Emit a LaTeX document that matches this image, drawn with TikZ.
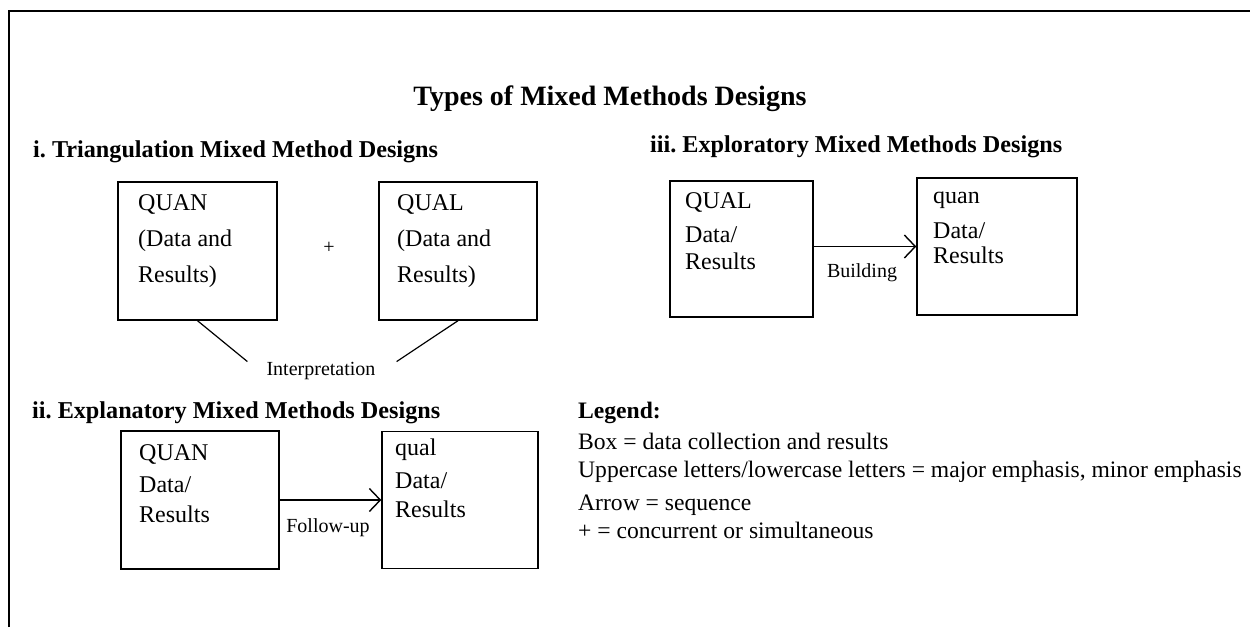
\documentclass[tikz,border=0pt]{standalone}
\usepackage{fontspec}
\setmainfont{Liberation Serif}
\usetikzlibrary{arrows.meta,positioning}
\frenchspacing

\begin{document}
\begin{tikzpicture}[x=1pt,y=-1pt,
    dbox/.style={draw,line width=1.4pt,minimum height=138pt,inner sep=0pt},
    btext/.style={anchor=north west,align=left,inner sep=0pt},
    head/.style={anchor=base west,inner sep=0pt,font=\bfseries\fontsize{24.2}{28}\selectfont},
    lbl/.style={anchor=base,inner sep=0pt,font=\fontsize{20}{24}\selectfont},
    leg/.style={anchor=base west,inner sep=0pt,font=\fontsize{23.6}{27}\selectfont},
    seq/.style={line width=1.4pt,-{Straight Barb[length=11pt,width=23pt]}}]
        \useasboundingbox (0,0) rectangle (1250,627);
        % page frame, cut off at right and bottom
        \draw[line width=2.6pt] (9,627) -- (9,11) -- (1250,11);

        \node[anchor=base,inner sep=0pt,font=\bfseries\fontsize{28}{32}\selectfont] (title) at (610,105) {Types of Mixed Methods Designs};

        % i. triangulation
        \node[head] (headA) at (33,157) {i. Triangulation Mixed Method Designs};
        \node[dbox,minimum width=159pt] (quanA) at (197.5,251) {};
        \node[dbox,minimum width=158pt] (qualA) at (458,251) {};
        \node[btext,font=\fontsize{24}{36}\selectfont] (quanAt) at (138,194) {QUAN\\(Data and\\Results)};
        \node[btext,font=\fontsize{24}{36}\selectfont] (qualAt) at (397,194) {QUAL\\(Data and\\Results)};
        \node[lbl] (plus) at (329,253) {+};
        \node[lbl] (interp) at (321,375) {Interpretation};
        \draw[line width=1.2pt] (quanA.south) -- ([xshift=-19pt]interp.north west);
        \draw[line width=1.2pt] (qualA.south) -- ([xshift=21pt]interp.north east);

        % ii. explanatory
        \node[head] (headB) at (32,418) {ii. Explanatory Mixed Methods Designs};
        \node[dbox,minimum width=158pt] (quanB) at (200,500) {};
        \node[dbox,minimum width=156pt,minimum height=137pt] (qualB) at (460,500) {};
        \node[btext,font=\fontsize{24}{30}\selectfont] (quanBt) at (139,444) {QUAN\\[2pt]Data/\\Results};
        \node[btext,font=\fontsize{24}{29}\selectfont] (qualBt) at (395,439) {qual\\[4pt]Data/\\Results};
        \draw[seq] (quanB.east) -- (qualB.west);
        \node[lbl] (fup) at (328,532) {Follow-up};

        % iii. exploratory
        \node[head] (headC) at (650,152) {iii. Exploratory Mixed Methods Designs};
        \node[dbox,minimum width=143pt,minimum height=136pt] (qualC) at (741.5,249) {};
        \node[dbox,minimum width=160pt,minimum height=137pt] (quanC) at (997,246.5) {};
        \node[btext,font=\fontsize{24}{27}\selectfont] (qualCt) at (685,192) {QUAL\\[7pt]Data/\\Results};
        \node[btext,font=\fontsize{24}{25}\selectfont] (quanCt) at (933,192) {quan\\[10pt]Data/\\Results};
        \draw[seq] (quanC.west -| qualC.east) -- (quanC.west);
        \node[lbl] (bld) at (862,277) {Building};

        % legend
        \node[leg,font=\bfseries\fontsize{23.6}{27}\selectfont] (legend) at (578,418) {Legend:};
        \node[leg] (legA) at (578,449) {Box = data collection and results};
        \node[leg] (legB) at (578,477) {Uppercase letters/lowercase letters = major emphasis, minor emphasis};
        \node[leg] (legC) at (578,510) {Arrow = sequence};
        \node[leg] (legD) at (578,538) {+ = concurrent or simultaneous};
\end{tikzpicture}
\end{document}
